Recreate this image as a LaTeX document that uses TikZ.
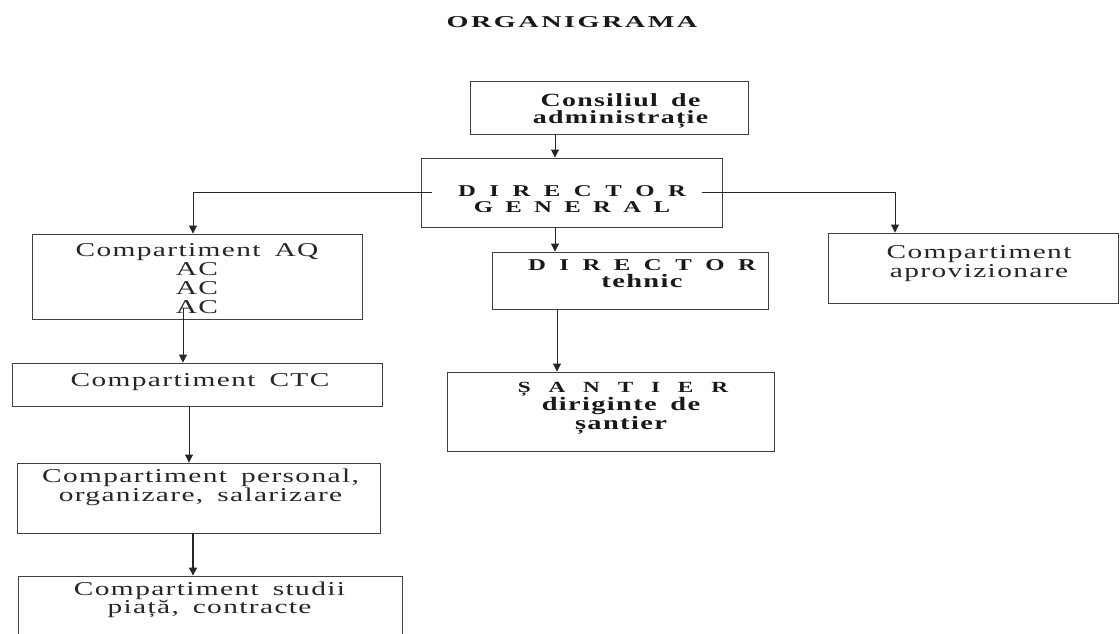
\documentclass[tikz,border=0pt]{standalone}
\usepackage{fontspec}
\setmainfont[FakeStretch=1.5,LetterSpace=7,WordSpace=1.6]{Liberation Serif}
\newfontfamily\plainfont[FakeStretch=1.5]{Liberation Serif}
\newfontfamily\titlefont[FakeStretch=1.7,LetterSpace=15]{Liberation Serif}
\usetikzlibrary{arrows.meta,calc}
\newcommand\gapD{\hspace{13.5pt}}
\newcommand\gapG{\hspace{12.3pt}}
\newcommand\gapS{\hspace{17.8pt}}
\begin{document}
\begin{tikzpicture}[x=1pt,y=-1pt,
  box/.style={draw=black!75, line width=0.9pt, rectangle, inner sep=0pt},
  reg/.style={anchor=base, align=center, inner sep=0pt, text=black!85, font=\fontsize{19.6}{#1}\selectfont},
  reg/.default=17pt,
  bld/.style={anchor=base, align=center, inner sep=0pt, text=black!90, font=\fontsize{19}{#1}\selectfont\bfseries},
  bld/.default=16pt,
  spc/.style={anchor=base, align=center, inner sep=0pt, text=black!90, font=\plainfont\fontsize{16.5}{16}\selectfont\bfseries},
  arr/.style={draw=black!85, line width=0.9pt, -{Triangle[length=8pt,width=8pt]}}
]
\useasboundingbox (0,0) rectangle (1120,634);
\clip (0,0) rectangle (1120,634);

% title
\node[anchor=base, inner sep=0pt, text=black!90, font=\titlefont\fontsize{16.6}{18}\selectfont\bfseries] (title) at (572,28) {ORGANIGRAMA};

% boxes
\node[box, minimum width=278pt, minimum height=53pt] (cons) at (609,107.5) {};
\node[box, minimum width=301pt, minimum height=69pt] (dg) at (571.5,192.5) {};
\node[box, minimum width=330pt, minimum height=85pt] (aq) at (197,276.5) {};
\node[box, minimum width=370pt, minimum height=43pt] (ctc) at (197,384.5) {};
\node[box, minimum width=363pt, minimum height=70pt] (pers) at (198.5,498) {};
\node[box, minimum width=384pt, minimum height=64pt] (stud) at (210,608) {};
\node[box, minimum width=276pt, minimum height=57pt] (dt) at (630,280.5) {};
\node[box, minimum width=327pt, minimum height=79pt] (sant) at (610.5,411.5) {};
\node[box, minimum width=290pt, minimum height=70pt] (aprov) at (973,268) {};

% texts (base anchor = baseline of the last line)
\node[bld=17pt, font=\fontsize{18.6}{17}\selectfont\bfseries] (consT) at (620.5,123) {Consiliul de\\administrație};

\node[spc] (dgT) at (572,212.7) {D\gapD I\gapD R\gapD E\gapD C\gapD T\gapD O\gapD R\\G\gapG E\gapG N\gapG E\gapG R\gapG A\gapG L};

\node[reg=19pt] (aqT) at (197,313) {Compartiment AQ\\AC\\AC\\AC};

\node[reg] (ctcT) at (200,386) {Compartiment CTC};

\node[reg] (persT) at (200.5,501) {Compartiment personal,\\organizare, salarizare};

\node[reg=18pt] (studT) at (209.5,613) {Compartiment studii\\piață, contracte};

\node[reg=16pt] (aprovT) at (979,277) {Compartiment\\aprovizionare};

\node[spc] (dtA) at (642,270) {D\gapD I\gapD R\gapD E\gapD C\gapD T\gapD O\gapD R};
\node[bld] (dtB) at (642,287) {tehnic};

\node[spc, font=\plainfont\fontsize{15.5}{16}\selectfont\bfseries] (santA) at (623,392) {Ș\gapS A\gapS N\gapS T\gapS I\gapS E\gapS R};
\node[bld=17pt] (santB) at (621,429) {diriginte de\\șantier};

% connectors
\draw[arr] ($(cons.south)+(-54,0)$) coordinate (p1) -- (p1 |- dg.north);
\draw[arr] ($(dg.south)+(-16.5,0)$) coordinate (p2) -- (p2 |- dt.north);
\draw[arr] ($(dt.south)+(-73,0)$) coordinate (p3) -- (p3 |- sant.north);
\draw[arr] ($(dg.west)+(11,0)$) -| ($(aq.north)+(-4,0)$);
\draw[arr] ($(dg.east)+(-20,0)$) -| ($(aprov.north)+(-78,0)$);
\draw[arr] ($(aq.south)+(-14,-11)$) coordinate (p4) -- (p4 |- ctc.north);
\draw[arr] ($(ctc.south)+(-8,0)$) coordinate (p5) -- (p5 |- pers.north);
\draw[arr, line width=1.5pt] ($(pers.south)+(-5.5,0)$) coordinate (p6) -- (p6 |- stud.north);
\end{tikzpicture}
\end{document}
